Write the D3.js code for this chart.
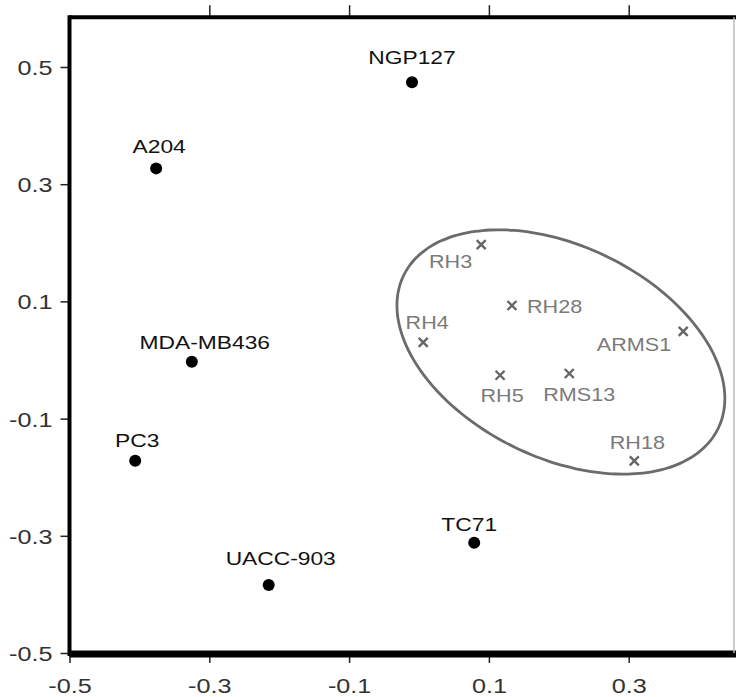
<!DOCTYPE html>
<html>
<head>
<meta charset="utf-8">
<script src="https://cdn.jsdelivr.net/npm/d3@7"></script>
<style>
  html, body { margin: 0; padding: 0; background: #fff; }
  svg { display: block; }
  text { font-family: "Liberation Sans", Arial, Helvetica, sans-serif; }
</style>
</head>
<body>
<svg id="chart" width="736" height="697"></svg>
<script>
// ---- data ----
const xTicks = [-0.5, -0.3, -0.1, 0.1, 0.3];
const yTicks = [0.5, 0.3, 0.1, -0.1, -0.3, -0.5];
const tickLabels = ["-0.5", "-0.3", "-0.1", "0.1", "0.3"];
const yTickLabels = ["0.5", "0.3", "0.1", "-0.1", "-0.3", "-0.5"];

// group 1: other cell lines (filled dots)
const otherNames = ["NGP127", "A204", "MDA-MB436", "PC3", "UACC-903", "TC71"];
const otherX = [-0.010, -0.376, -0.325, -0.406, -0.215, 0.079];
const otherY = [0.474, 0.327, -0.003, -0.172, -0.384, -0.312];

// group 2: rhabdomyosarcoma lines (crosses)
const rmsNames = ["RH3", "RH28", "RH4", "ARMS1", "RH5", "RMS13", "RH18"];
const rmsX = [0.089, 0.133, 0.006, 0.378, 0.116, 0.215, 0.308];
const rmsY = [0.197, 0.093, 0.030, 0.049, -0.026, -0.023, -0.172];

// enclosing ellipse (data units): centre and two semi-axis vectors
const ellipseCenter = [0.203, 0.0137];
const ellipseAxisU = [0.225, -0.1305];
const ellipseAxisV = [-0.0662, -0.1626];

// ---- layout (label offsets in px, separate from data) ----
const otherLabelPos = [
  {dx: 0, dy: -18, anchor: "middle"},
  {dx: 3, dy: -15, anchor: "middle"},
  {dx: 13, dy: -13, anchor: "middle"},
  {dx: 2, dy: -14, anchor: "middle"},
  {dx: 12, dy: -20, anchor: "middle"},
  {dx: -5, dy: -12, anchor: "middle"}
];
const rmsLabelPos = [
  {dx: -9, dy: 23, anchor: "end"},
  {dx: 15, dy: 7, anchor: "start"},
  {dx: 4, dy: -13, anchor: "middle"},
  {dx: -12, dy: 20, anchor: "end"},
  {dx: 2, dy: 27, anchor: "middle"},
  {dx: 10, dy: 28, anchor: "middle"},
  {dx: 3, dy: -12, anchor: "middle"}
];

const svg = d3.select("#chart");
const W = 736, H = 697;

const x = d3.scaleLinear().domain([-0.5, 0.45]).range([69.5, 69.5 + 0.95 * 699]);
const y = d3.scaleLinear().domain([-0.5, 0.585]).range([653, 653 - 1.085 * 586]);

const xs = 1.2; // horizontal stretch of text as in the reference

// ---- axes ----
const leftAxis = svg.append("g")
  .attr("transform", `translate(${x(-0.5)},0)`)
  .call(d3.axisLeft(y).tickValues(yTicks).tickSize(9).tickFormat((d, i) => yTickLabels[i]));
leftAxis.select(".domain").remove();
leftAxis.selectAll(".tick line").attr("stroke", "#222").attr("stroke-width", 1.5);
leftAxis.selectAll(".tick text")
  .attr("x", null).attr("dy", null)
  .attr("text-anchor", "end")
  .attr("font-size", 21).attr("fill", "#333")
  .attr("transform", "translate(-17,7.5) scale(1.2,1)");

const bottomAxis = svg.append("g")
  .attr("transform", `translate(0,${y(-0.5)})`)
  .call(d3.axisBottom(x).tickValues(xTicks).tickSize(10).tickFormat((d, i) => tickLabels[i]));
bottomAxis.select(".domain").remove();
bottomAxis.selectAll(".tick line").attr("stroke", "#222").attr("stroke-width", 1.5);
bottomAxis.selectAll(".tick text")
  .attr("y", null).attr("dy", null)
  .attr("text-anchor", "middle")
  .attr("font-size", 21).attr("fill", "#333")
  .attr("transform", "translate(0,40) scale(1.2,1)");

const topAxis = svg.append("g")
  .attr("transform", `translate(0,${y(0.585)})`)
  .call(d3.axisTop(x).tickValues(xTicks.slice(1)).tickSize(12).tickFormat(""));
topAxis.select(".domain").remove();
topAxis.selectAll(".tick line").attr("stroke", "#222").attr("stroke-width", 1.5);

// ---- frame ----
const frame = svg.append("g");
frame.append("line")
  .attr("x1", x(-0.5)).attr("x2", W).attr("y1", y(0.585)).attr("y2", y(0.585))
  .attr("stroke", "#000").attr("stroke-width", 4);
frame.append("line")
  .attr("x1", x(-0.5)).attr("x2", x(-0.5)).attr("y1", y(0.585) - 2).attr("y2", y(-0.5) + 3)
  .attr("stroke", "#000").attr("stroke-width", 4);
frame.append("line")
  .attr("x1", x(-0.5)).attr("x2", W).attr("y1", y(-0.5) + 1).attr("y2", y(-0.5) + 1)
  .attr("stroke", "#000").attr("stroke-width", 7);
frame.append("line")
  .attr("x1", W - 2).attr("x2", W - 2).attr("y1", y(0.585)).attr("y2", y(-0.5))
  .attr("stroke", "#bbb").attr("stroke-width", 1.5);

// ---- ellipse ----
const ellipsePts = d3.range(0, 361, 3).map(deg => {
  const t = deg * Math.PI / 180;
  return [
    ellipseCenter[0] + Math.cos(t) * ellipseAxisU[0] + Math.sin(t) * ellipseAxisV[0],
    ellipseCenter[1] + Math.cos(t) * ellipseAxisU[1] + Math.sin(t) * ellipseAxisV[1]
  ];
});
svg.append("path")
  .datum(ellipsePts)
  .attr("d", d3.line().x(d => x(d[0])).y(d => y(d[1])).curve(d3.curveCardinalClosed))
  .attr("fill", "none").attr("stroke", "#6b6b6b").attr("stroke-width", 2.8);

// ---- other cell lines ----
const others = otherNames.map((n, i) => ({name: n, x: otherX[i], y: otherY[i], pos: otherLabelPos[i]}));
svg.append("g").selectAll("circle").data(others).join("circle")
  .attr("cx", d => x(d.x)).attr("cy", d => y(d.y)).attr("r", 6)
  .attr("fill", "#000");
svg.append("g").selectAll("text").data(others).join("text")
  .attr("transform", d => `translate(${x(d.x) + d.pos.dx},${y(d.y) + d.pos.dy}) scale(${xs},1)`)
  .attr("text-anchor", d => d.pos.anchor)
  .attr("font-size", 19).attr("fill", "#111")
  .text(d => d.name);

// ---- RMS lines ----
const rms = rmsNames.map((n, i) => ({name: n, x: rmsX[i], y: rmsY[i], pos: rmsLabelPos[i]}));
const cross = svg.append("g").selectAll("g").data(rms).join("g")
  .attr("transform", d => `translate(${x(d.x)},${y(d.y)})`);
cross.append("path")
  .attr("d", "M-4.5,-4.5L4.5,4.5M-4.5,4.5L4.5,-4.5")
  .attr("stroke", "#666").attr("stroke-width", 2.4).attr("fill", "none");
svg.append("g").selectAll("text").data(rms).join("text")
  .attr("transform", d => `translate(${x(d.x) + d.pos.dx},${y(d.y) + d.pos.dy}) scale(${xs},1)`)
  .attr("text-anchor", d => d.pos.anchor)
  .attr("font-size", 18).attr("fill", "#7a7a7a")
  .text(d => d.name);
</script>
</body>
</html>
